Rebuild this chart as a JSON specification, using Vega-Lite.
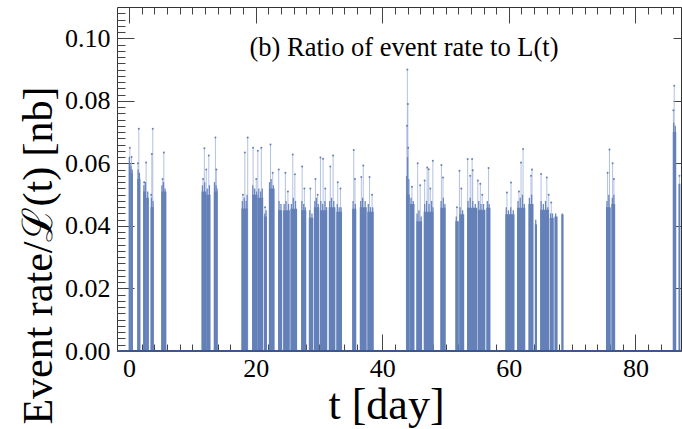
{
  "$schema": "https://vega.github.io/schema/vega-lite/v6.json",
  "width": 564,
  "height": 344,
  "autosize": {"type": "none"},
  "padding": {"left": 117, "top": 7, "right": 1, "bottom": 78},
  "background": "white",
  "config": {
    "view": {"stroke": "#333333", "strokeWidth": 1},
    "axis": {"domain": false, "grid": false, "tickColor": "#444444", "tickWidth": 1, "labelFont": "Liberation Serif", "titleFont": "Liberation Serif", "labelColor": "black", "titleColor": "black", "titleFontWeight": "normal"}
  },
  "title": {"text": "(b) Ratio of event rate to L(t)", "font": "Liberation Serif", "fontSize": 26.5, "fontWeight": "normal", "color": "black", "anchor": "middle", "frame": "group", "orient": "top", "baseline": "bottom", "offset": -82, "dx": 5},
  "datasets": {
    "runs": [
      {"t0": -0.03, "t1": 0.25, "v": 0.060}, {"t0": 0.25, "t1": 0.6, "v": 0.057},
      {"t0": 1.3, "t1": 1.8, "v": 0.055},
      {"t0": 2.24, "t1": 2.7, "v": 0.051}, {"t0": 2.7, "t1": 3.13, "v": 0.049},
      {"t0": 3.4, "t1": 3.9, "v": 0.046},
      {"t0": 5.1, "t1": 5.9, "v": 0.051},
      {"t0": 11.45, "t1": 12.2, "v": 0.051}, {"t0": 12.2, "t1": 12.87, "v": 0.050},
      {"t0": 13.4, "t1": 14.0, "v": 0.051},
      {"t0": 17.75, "t1": 18.75, "v": 0.0456},
      {"t0": 19.45, "t1": 20.3, "v": 0.050}, {"t0": 20.3, "t1": 21.2, "v": 0.049},
      {"t0": 21.3, "t1": 21.8, "v": 0.043},
      {"t0": 22.1, "t1": 23.0, "v": 0.052},
      {"t0": 23.55, "t1": 24.2, "v": 0.045},
      {"t0": 24.35, "t1": 25.4, "v": 0.045},
      {"t0": 25.5, "t1": 26.55, "v": 0.0455},
      {"t0": 27.2, "t1": 28.0, "v": 0.045},
      {"t0": 28.4, "t1": 29.1, "v": 0.0426},
      {"t0": 29.2, "t1": 30.05, "v": 0.046},
      {"t0": 30.15, "t1": 31.3, "v": 0.045},
      {"t0": 31.55, "t1": 32.6, "v": 0.046},
      {"t0": 32.75, "t1": 33.65, "v": 0.0445},
      {"t0": 35.25, "t1": 35.9, "v": 0.0455},
      {"t0": 36.45, "t1": 37.55, "v": 0.046},
      {"t0": 37.65, "t1": 38.65, "v": 0.0445},
      {"t0": 43.8, "t1": 44.35, "v": 0.050},
      {"t0": 44.4, "t1": 45.1, "v": 0.047},
      {"t0": 45.4, "t1": 46.3, "v": 0.0415},
      {"t0": 46.55, "t1": 48.1, "v": 0.0445},
      {"t0": 49.2, "t1": 50.0, "v": 0.0458},
      {"t0": 51.55, "t1": 52.1, "v": 0.0415},
      {"t0": 52.2, "t1": 52.95, "v": 0.0437},
      {"t0": 53.4, "t1": 55.0, "v": 0.0458},
      {"t0": 55.1, "t1": 56.3, "v": 0.0452},
      {"t0": 56.45, "t1": 57.1, "v": 0.0458},
      {"t0": 59.45, "t1": 60.9, "v": 0.0437},
      {"t0": 61.3, "t1": 62.6, "v": 0.0458},
      {"t0": 63.1, "t1": 63.9, "v": 0.047},
      {"t0": 64.1, "t1": 64.45, "v": 0.0405},
      {"t0": 64.95, "t1": 66.35, "v": 0.0452},
      {"t0": 66.45, "t1": 67.1, "v": 0.0425},
      {"t0": 67.2, "t1": 67.7, "v": 0.043},
      {"t0": 68.3, "t1": 68.65, "v": 0.0437},
      {"t0": 75.35, "t1": 76.1, "v": 0.046},
      {"t0": 76.2, "t1": 76.8, "v": 0.047},
      {"t0": 85.9, "t1": 86.45, "v": 0.070},
      {"t0": 86.8, "t1": 87.1, "v": 0.0535}
    ],
    "tops": [
      {"t": 0.05, "v": 0.062}, {"t": 0.3, "v": 0.059}, {"t": 0.5, "v": 0.058},
      {"t": 1.45, "v": 0.058}, {"t": 1.65, "v": 0.057},
      {"t": 2.35, "v": 0.053}, {"t": 2.6, "v": 0.054}, {"t": 2.95, "v": 0.051},
      {"t": 3.55, "v": 0.049}, {"t": 3.8, "v": 0.048},
      {"t": 5.2, "v": 0.053}, {"t": 5.45, "v": 0.054}, {"t": 5.7, "v": 0.052},
      {"t": 11.6, "v": 0.053}, {"t": 11.95, "v": 0.054}, {"t": 12.35, "v": 0.052}, {"t": 12.7, "v": 0.053},
      {"t": 13.5, "v": 0.054}, {"t": 13.75, "v": 0.053}, {"t": 13.9, "v": 0.052},
      {"t": 17.9, "v": 0.048}, {"t": 18.2, "v": 0.049}, {"t": 18.5, "v": 0.048}, {"t": 18.65, "v": 0.050},
      {"t": 19.55, "v": 0.053}, {"t": 19.85, "v": 0.052}, {"t": 20.15, "v": 0.051}, {"t": 20.5, "v": 0.052}, {"t": 20.8, "v": 0.051}, {"t": 21.05, "v": 0.052},
      {"t": 21.45, "v": 0.044}, {"t": 21.65, "v": 0.045},
      {"t": 22.2, "v": 0.054}, {"t": 22.45, "v": 0.055}, {"t": 22.8, "v": 0.053},
      {"t": 23.7, "v": 0.048}, {"t": 24.0, "v": 0.047},
      {"t": 24.5, "v": 0.047}, {"t": 24.8, "v": 0.048}, {"t": 25.2, "v": 0.047},
      {"t": 25.65, "v": 0.047}, {"t": 25.95, "v": 0.049}, {"t": 26.3, "v": 0.048},
      {"t": 27.3, "v": 0.048}, {"t": 27.6, "v": 0.047}, {"t": 27.85, "v": 0.046},
      {"t": 28.55, "v": 0.045}, {"t": 28.9, "v": 0.044},
      {"t": 29.35, "v": 0.048}, {"t": 29.6, "v": 0.049}, {"t": 29.9, "v": 0.047},
      {"t": 30.3, "v": 0.048}, {"t": 30.6, "v": 0.047}, {"t": 30.95, "v": 0.048}, {"t": 31.2, "v": 0.046},
      {"t": 31.7, "v": 0.048}, {"t": 32.0, "v": 0.049}, {"t": 32.35, "v": 0.048},
      {"t": 32.9, "v": 0.047}, {"t": 33.2, "v": 0.046}, {"t": 33.5, "v": 0.046},
      {"t": 35.4, "v": 0.048}, {"t": 35.75, "v": 0.047},
      {"t": 36.6, "v": 0.048}, {"t": 36.9, "v": 0.049}, {"t": 37.3, "v": 0.048},
      {"t": 37.8, "v": 0.047}, {"t": 38.15, "v": 0.046}, {"t": 38.5, "v": 0.046},
      {"t": 43.85, "v": 0.056}, {"t": 44.0, "v": 0.062}, {"t": 44.2, "v": 0.055},
      {"t": 44.55, "v": 0.049}, {"t": 44.9, "v": 0.048},
      {"t": 45.5, "v": 0.044}, {"t": 45.8, "v": 0.045}, {"t": 46.15, "v": 0.043},
      {"t": 46.7, "v": 0.047}, {"t": 47.0, "v": 0.048}, {"t": 47.4, "v": 0.047}, {"t": 47.8, "v": 0.048}, {"t": 48.0, "v": 0.046},
      {"t": 49.3, "v": 0.048}, {"t": 49.65, "v": 0.049}, {"t": 49.9, "v": 0.047},
      {"t": 51.7, "v": 0.043},
      {"t": 52.3, "v": 0.046}, {"t": 52.7, "v": 0.045},
      {"t": 53.55, "v": 0.048}, {"t": 53.9, "v": 0.049}, {"t": 54.3, "v": 0.048}, {"t": 54.7, "v": 0.047},
      {"t": 55.25, "v": 0.048}, {"t": 55.6, "v": 0.047}, {"t": 56.0, "v": 0.047},
      {"t": 56.6, "v": 0.048}, {"t": 56.9, "v": 0.047},
      {"t": 59.6, "v": 0.046}, {"t": 59.95, "v": 0.045}, {"t": 60.3, "v": 0.046}, {"t": 60.7, "v": 0.045},
      {"t": 61.45, "v": 0.048}, {"t": 61.8, "v": 0.049}, {"t": 62.15, "v": 0.050}, {"t": 62.45, "v": 0.047},
      {"t": 63.25, "v": 0.049}, {"t": 63.6, "v": 0.050},
      {"t": 64.25, "v": 0.042},
      {"t": 65.1, "v": 0.048}, {"t": 65.45, "v": 0.047}, {"t": 65.8, "v": 0.048}, {"t": 66.15, "v": 0.046},
      {"t": 66.6, "v": 0.044}, {"t": 66.9, "v": 0.044},
      {"t": 67.4, "v": 0.044},
      {"t": 68.45, "v": 0.044},
      {"t": 75.5, "v": 0.048}, {"t": 75.8, "v": 0.050},
      {"t": 76.35, "v": 0.049}, {"t": 76.6, "v": 0.050},
      {"t": 86.05, "v": 0.073}, {"t": 86.3, "v": 0.072}
    ],
    "peaks": [
      {"t": 0.13, "v": 0.065}, {"t": 0.4, "v": 0.062},
      {"t": 1.55, "v": 0.0711}, {"t": 1.4, "v": 0.060},
      {"t": 2.7, "v": 0.0603}, {"t": 2.4, "v": 0.054},
      {"t": 3.75, "v": 0.0711}, {"t": 3.6, "v": 0.063}, {"t": 3.5, "v": 0.050},
      {"t": 5.5, "v": 0.0635}, {"t": 5.3, "v": 0.055},
      {"t": 11.9, "v": 0.0648}, {"t": 12.6, "v": 0.0625}, {"t": 12.2, "v": 0.058}, {"t": 11.7, "v": 0.055},
      {"t": 13.65, "v": 0.0683}, {"t": 13.8, "v": 0.058},
      {"t": 18.3, "v": 0.0635}, {"t": 18.75, "v": 0.0683}, {"t": 18.0, "v": 0.050},
      {"t": 19.6, "v": 0.065}, {"t": 20.35, "v": 0.064}, {"t": 20.9, "v": 0.065}, {"t": 20.1, "v": 0.055},
      {"t": 21.5, "v": 0.046},
      {"t": 22.35, "v": 0.066}, {"t": 22.7, "v": 0.057},
      {"t": 23.65, "v": 0.058},
      {"t": 24.7, "v": 0.057}, {"t": 25.1, "v": 0.051},
      {"t": 25.87, "v": 0.0628}, {"t": 26.2, "v": 0.0565},
      {"t": 27.35, "v": 0.059}, {"t": 27.7, "v": 0.052},
      {"t": 28.65, "v": 0.052},
      {"t": 29.45, "v": 0.055}, {"t": 29.8, "v": 0.050},
      {"t": 30.24, "v": 0.0619}, {"t": 30.66, "v": 0.0615}, {"t": 31.0, "v": 0.052},
      {"t": 31.8, "v": 0.059}, {"t": 32.24, "v": 0.0625},
      {"t": 32.97, "v": 0.054}, {"t": 33.4, "v": 0.052},
      {"t": 35.5, "v": 0.0643}, {"t": 35.7, "v": 0.055},
      {"t": 36.7, "v": 0.0556}, {"t": 37.0, "v": 0.0593},
      {"t": 38.0, "v": 0.0556}, {"t": 38.4, "v": 0.050},
      {"t": 43.97, "v": 0.090}, {"t": 44.05, "v": 0.079}, {"t": 43.9, "v": 0.072}, {"t": 44.1, "v": 0.065},
      {"t": 44.7, "v": 0.0525},
      {"t": 45.6, "v": 0.060}, {"t": 46.0, "v": 0.053},
      {"t": 46.7, "v": 0.0545}, {"t": 47.1, "v": 0.0587}, {"t": 47.35, "v": 0.0581}, {"t": 48.0, "v": 0.0608}, {"t": 47.6, "v": 0.052},
      {"t": 49.35, "v": 0.0595}, {"t": 49.6, "v": 0.0555},
      {"t": 51.8, "v": 0.046},
      {"t": 52.2, "v": 0.0576}, {"t": 52.5, "v": 0.052},
      {"t": 53.5, "v": 0.0614}, {"t": 54.2, "v": 0.0614}, {"t": 54.3, "v": 0.0578}, {"t": 53.9, "v": 0.056},
      {"t": 55.1, "v": 0.0545}, {"t": 55.5, "v": 0.0535}, {"t": 55.8, "v": 0.050},
      {"t": 56.8, "v": 0.0585},
      {"t": 59.7, "v": 0.0507}, {"t": 60.35, "v": 0.0539},
      {"t": 61.93, "v": 0.0603}, {"t": 62.25, "v": 0.0646}, {"t": 61.6, "v": 0.051},
      {"t": 63.5, "v": 0.056}, {"t": 63.66, "v": 0.058},
      {"t": 65.1, "v": 0.0566}, {"t": 66.0, "v": 0.0555}, {"t": 66.3, "v": 0.050},
      {"t": 66.7, "v": 0.0475},
      {"t": 75.9, "v": 0.0644}, {"t": 75.6, "v": 0.057},
      {"t": 76.4, "v": 0.060}, {"t": 76.6, "v": 0.055},
      {"t": 86.13, "v": 0.0848}, {"t": 86.0, "v": 0.077},
      {"t": 86.95, "v": 0.056}
    ]
  },
  "resolve": {"axis": {"x": "independent", "y": "independent"}},
  "layer": [
    {
      "data": {"name": "peaks"},
      "mark": {"type": "rule", "color": "#9fb1da", "strokeWidth": 0.8},
      "encoding": {
        "x": {"field": "t", "type": "quantitative", "scale": {"domain": [-1.9, 87.2], "nice": false, "zero": false},
              "axis": {"orient": "bottom", "values": [0,2,4,6,8,10,12,14,16,18,20,22,24,26,28,30,32,34,36,38,40,42,44,46,48,50,52,54,56,58,60,62,64,66,68,70,72,74,76,78,80,82,84,86], "labels": false, "title": null, "tickSize": -7}},
        "y": {"field": "v", "type": "quantitative", "scale": {"domain": [0, 0.11], "nice": false},
              "axis": {"orient": "left", "values": [0.002,0.004,0.006,0.008,0.01,0.012,0.014,0.016,0.018,0.02,0.022,0.024,0.026,0.028,0.03,0.032,0.034,0.036,0.038,0.04,0.042,0.044,0.046,0.048,0.05,0.052,0.054,0.056,0.058,0.06,0.062,0.064,0.066,0.068,0.07,0.072,0.074,0.076,0.078,0.08,0.082,0.084,0.086,0.088,0.09,0.092,0.094,0.096,0.098,0.1,0.102,0.104,0.106,0.108], "labels": false, "title": null, "tickSize": -8}},
        "y2": {"datum": 0}
      }
    },
    {
      "data": {"name": "tops"},
      "mark": {"type": "rule", "color": "#6b87bf", "strokeWidth": 1.3},
      "encoding": {
        "x": {"field": "t", "type": "quantitative", "axis": null},
        "y": {"field": "v", "type": "quantitative", "axis": null},
        "y2": {"datum": 0}
      }
    },
    {
      "data": {"name": "runs"},
      "mark": {"type": "rect", "color": "#6380b9"},
      "encoding": {
        "x": {"field": "t0", "type": "quantitative",
              "axis": {"orient": "bottom", "values": [0, 20, 40, 60, 80], "labelFontSize": 26, "labelPadding": 21, "tickSize": -17, "title": "t [day]", "titleFontSize": 44, "titleX": 269, "titleY": 67, "titleBaseline": "alphabetic", "titleAnchor": null}},
        "x2": {"field": "t1"},
        "y": {"field": "v", "type": "quantitative",
              "axis": {"orient": "left", "values": [0, 0.02, 0.04, 0.06, 0.08, 0.1], "format": ".2f", "labelFontSize": 26, "labelPadding": 24, "tickSize": -17, "title": "Event rate/ℒ(t) [nb]", "titleFontSize": 42, "titleX": -66, "titleY": 248, "titleAngle": -90, "titleAlign": "center", "titleBaseline": "alphabetic"}},
        "y2": {"datum": 0}
      }
    },
    {
      "data": {"name": "peaks"},
      "mark": {"type": "point", "filled": true, "size": 4, "color": "#4f6ea8", "opacity": 0.85},
      "encoding": {
        "x": {"field": "t", "type": "quantitative",
              "axis": {"orient": "top", "values": [0,2,4,6,8,10,12,14,16,18,20,22,24,26,28,30,32,34,36,38,40,42,44,46,48,50,52,54,56,58,60,62,64,66,68,70,72,74,76,78,80,82,84,86], "labels": false, "title": null, "tickSize": -7}},
        "y": {"field": "v", "type": "quantitative",
              "axis": {"orient": "right", "values": [0.02, 0.04, 0.06, 0.08, 0.1], "labels": false, "title": null, "tickSize": -8}}
      }
    },
    {
      "data": {"values": [{}]},
      "mark": {"type": "rule", "color": "#3d5691", "strokeWidth": 2},
      "encoding": {
        "x": {"datum": -1.9, "type": "quantitative",
              "axis": {"orient": "top", "values": [0, 20, 40, 60, 80], "labels": false, "title": null, "tickSize": -16}},
        "x2": {"datum": 87.2},
        "y": {"datum": 0, "type": "quantitative", "axis": null}
      }
    }
  ]
}
